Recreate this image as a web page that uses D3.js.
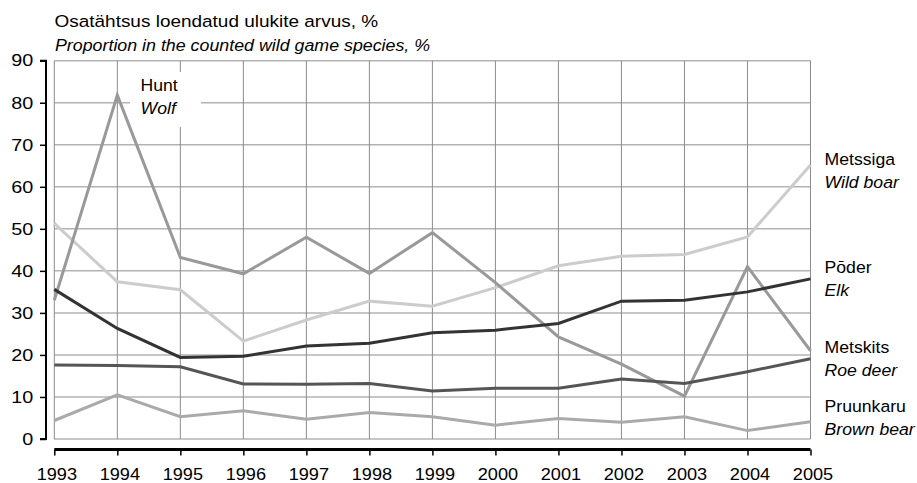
<!DOCTYPE html>
<html><head><meta charset="utf-8">
<script src="https://cdn.jsdelivr.net/npm/d3@7"></script>
<style>body{margin:0;background:#fff}svg{font-family:"Liberation Sans",Arial,sans-serif}</style>
</head><body><svg id="c" width="917" height="483"></svg>
<script>
const years = [1993,1994,1995,1996,1997,1998,1999,2000,2001,2002,2003,2004,2005];
const yTicks = [0,10,20,30,40,50,60,70,80,90];
const wolf     = [33,81.8,43.2,39.3,48,39.4,49.1,37.2,24.3,17.8,10.2,41,21];
const wildBoar = [51.3,37.4,35.5,23.3,28.3,32.8,31.6,36,41.2,43.5,43.9,48.1,65.2];
const elk      = [35.6,26.3,19.4,19.7,22.1,22.8,25.3,25.9,27.5,32.8,33,35,38.1];
const roeDeer  = [17.6,17.5,17.2,13.1,13,13.2,11.4,12.1,12.1,14.3,13.2,16,19.1];
const brownBear= [4.4,10.5,5.3,6.7,4.7,6.3,5.3,3.3,4.9,4,5.3,2,4.1];
const seriesNames = [
  {et:"Pruunkaru", en:"Brown bear", data:brownBear, color:"#aaaaaa"},
  {et:"Metssiga", en:"Wild boar", data:wildBoar, color:"#cccccc"},
  {et:"Hunt", en:"Wolf", data:wolf, color:"#999999"},
  {et:"Metskits", en:"Roe deer", data:roeDeer, color:"#555555"},
  {et:"Pōder", en:"Elk", data:elk, color:"#333333"}
];
const FS = 16.5;
const svg = d3.select("#c");
const x = d3.scaleLinear().domain([1993,2005]).range([54.3,810.5]);
const y = d3.scaleLinear().domain([0,90]).range([439,60.7]);

// grid
svg.append("g").selectAll("line").data(yTicks).join("line")
  .attr("x1",54).attr("x2",810.5).attr("y1",d=>y(d)).attr("y2",d=>y(d))
  .attr("stroke","#b3b3b3").attr("stroke-width",1.5);
svg.append("g").selectAll("line").data(years).join("line")
  .attr("x1",d=>x(d)).attr("x2",d=>x(d)).attr("y1",y(90)).attr("y2",y(0))
  .attr("stroke","#8c8c8c").attr("stroke-width",1);

// y axis
const ySx = 1.2;
const ya = svg.append("g").attr("transform","translate(46,0)")
  .call(d3.axisLeft(y).tickValues(yTicks).tickSize(6).tickPadding(4));
ya.select(".domain").attr("stroke","#000").attr("stroke-width",2).attr("d","M-6,"+y(90)+"H0V"+y(0)+"H-6");
ya.selectAll(".tick line").attr("stroke","#000").attr("stroke-width",1.5);
ya.selectAll(".tick text").attr("font-size",FS).attr("fill","#000")
  .attr("font-family","Liberation Sans, Arial, sans-serif")
  .attr("x",-12.7/ySx).attr("transform","scale("+ySx+",1)");

// x axis
const xSx = 1.1;
const xa = svg.append("g").attr("transform","translate(0,449.5)")
  .call(d3.axisBottom(x).tickValues(years).tickFormat(d3.format("d")).tickSize(6).tickPadding(13));
xa.select(".domain").attr("stroke","#000").attr("stroke-width",3).attr("d","M"+x(1993)+",0H"+x(2005));
xa.selectAll(".tick line").attr("stroke","#000").attr("stroke-width",1.5);
xa.selectAll(".tick text").attr("font-size",FS).attr("fill","#000")
  .attr("font-family","Liberation Sans, Arial, sans-serif")
  .attr("y",31).attr("dy",0).attr("x",2/xSx).attr("transform","scale("+xSx+",1)");

// white label box for wolf
svg.append("rect").attr("x",130).attr("y",72).attr("width",71).attr("height",55).attr("fill","#fff");

// lines
const line = d3.line().x((d,i)=>x(years[i])).y(d=>y(d));
svg.append("g").selectAll("path").data(seriesNames).join("path")
  .attr("d",d=>line(d.data)).attr("fill","none").attr("stroke",d=>d.color)
  .attr("stroke-width",3).attr("stroke-linejoin","miter");

function txt(t, px, py, sx, italic){
  return svg.append("text").attr("transform","translate("+px+","+py+") scale("+sx+",1)")
    .attr("font-size",FS).attr("font-style",italic?"italic":"normal").attr("fill","#000").text(t);
}
// titles
txt("Osatähtsus loendatud ulukite arvus, %", 54.5, 27.3, 1.15, false);
txt("Proportion in the counted wild game species, %", 55, 50.7, 1.08, true);

// labels
const labels = [
  {s:"Hunt", x:140.5, y:90.5},
  {s:"Metssiga", x:824.5, y:165},
  {s:"Pōder", x:824.5, y:273},
  {s:"Metskits", x:824.5, y:353},
  {s:"Pruunkaru", x:824.5, y:412}
];
labels.forEach(l=>{
  const s = seriesNames.find(d=>d.et===l.s);
  txt(s.et, l.x, l.y, 1.07, false);
  txt(s.en, l.x, l.y+23.3, 1.07, true);
});
</script></body></html>
